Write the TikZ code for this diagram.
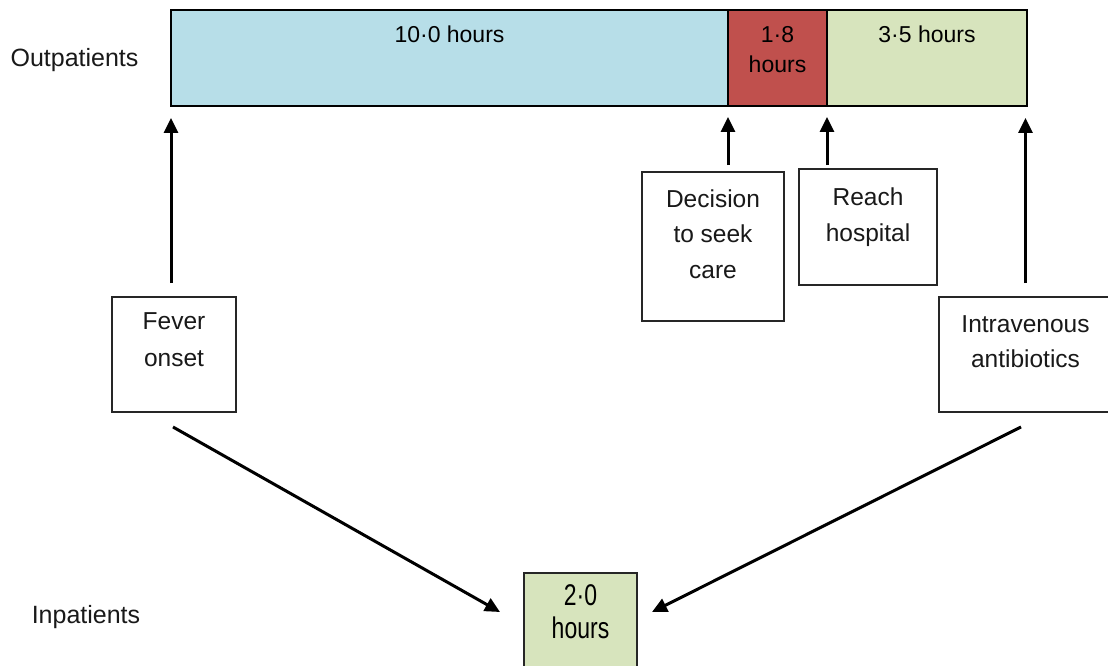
\documentclass[tikz,border=0pt]{standalone}
\usepackage{fontspec}
\usepackage{graphicx}
\setmainfont{Liberation Sans}
\usetikzlibrary{arrows.meta}
\definecolor{barblue}{HTML}{B7DEE8}
\definecolor{barred}{HTML}{C0504D}
\definecolor{bargreen}{HTML}{D7E4BD}
\tikzset{
  seg/.style={draw=black, line width=1.5pt, inner sep=0pt, outer sep=0pt, anchor=north west},
  evbox/.style={draw=black!85, line width=1.5pt, fill=white, inner sep=0pt, outer sep=0pt, anchor=north west},
  bartxt/.style={font=\fontsize{23}{30}\selectfont, align=center, anchor=base, inner sep=0pt},
  evtxt/.style={font=\fontsize{24.5}{36}\selectfont, align=center, anchor=base, inner sep=0pt, text=black!90},
  grptxt/.style={font=\fontsize{25}{30}\selectfont, anchor=base, inner sep=0pt, text=black!90},
  arr/.style={line width=3pt, -{Triangle[length=15pt,width=14pt]}}
}
\begin{document}
\begin{tikzpicture}[x=1pt,y=-1pt]
\clip (0,0) rectangle (1108,666);
\fill[white] (0,0) rectangle (1108,666);
% bar
\node[seg, fill=barblue, minimum width=557pt, minimum height=96pt] (blue) at (171,10) {};
\node[seg, fill=barred, minimum width=99pt, minimum height=96pt] (red) at (728,10) {};
\node[seg, fill=bargreen, minimum width=200pt, minimum height=96pt] (green) at (827,10) {};
\node[bartxt] (t10) at (449.5,43) {10·0 hours};
\node[bartxt] (t18) at (777.5,73) {1·8\\hours};
\node[bartxt] (t35) at (927,43) {3·5 hours};
% group labels
\node[grptxt] (outp) at (74.5,67) {Outpatients};
\node[grptxt] (inp) at (86,623) {Inpatients};
% event boxes
\node[evbox, minimum width=124pt, minimum height=115pt] (fever) at (112,297) {};
\node[evbox, minimum width=142pt, minimum height=149pt] (decision) at (642,172) {};
\node[evbox, minimum width=138pt, minimum height=116pt] (reach) at (799,169) {};
\node[evbox, minimum width=173pt, minimum height=115pt] (iv) at (939,297) {};
\node[evbox, fill=bargreen, minimum width=113pt, minimum height=117pt] (inpat) at (524,573) {};
\node[evtxt, font=\fontsize{24.5}{37}\selectfont] (feverT) at (174,366) {Fever\\onset};
\node[evtxt, font=\fontsize{24.5}{35.5}\selectfont] (decisionT) at (713,278) {Decision\\to seek\\care};
\node[evtxt] (reachT) at (868,241) {Reach\\hospital};
\node[evtxt, font=\fontsize{24.5}{35}\selectfont] (ivT) at (1025.5,367) {Intravenous\\antibiotics};
\node[bartxt, font=\fontsize{23}{33}\selectfont] (inpatT) at (580.5,638) {\scalebox{1}[1.3]{2·0}\\\scalebox{1}[1.3]{hours}};
% arrows
\draw[arr, shorten <=14pt, shorten >=12pt] (blue.south west |- fever.north) -- (blue.south west);
\draw[arr, shorten <=7pt, shorten >=11pt] (red.south west |- decision.north) -- (red.south west);
\draw[arr, shorten <=4pt, shorten >=11pt] (green.south west |- reach.north) -- (green.south west);
\draw[arr, shorten <=14pt, shorten >=12pt] (iv.north) -- (iv.north |- green.south);
\draw[arr] ([xshift=-1pt,yshift=-15pt]fever.south) -- ([xshift=-24pt,yshift=-39pt]inpat.north west);
\draw[arr] ([xshift=-4.5pt,yshift=-15pt]iv.south) -- ([xshift=15pt,yshift=-39pt]inpat.north east);
\end{tikzpicture}
\end{document}
